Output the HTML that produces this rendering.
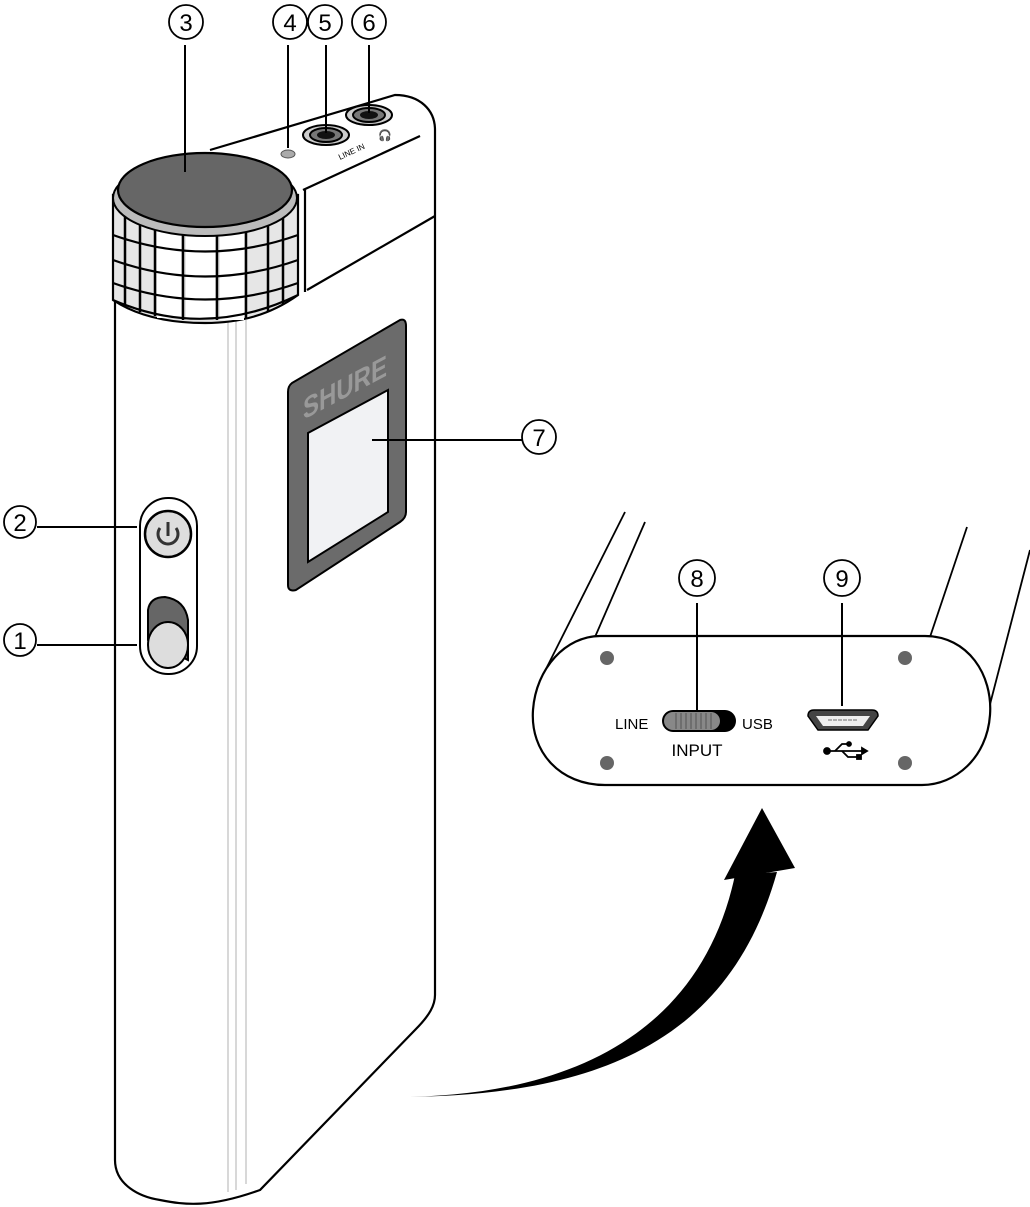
<!DOCTYPE html>
<html><head><style>body{margin:0;background:#fff}svg{display:block}text{font-family:"Liberation Sans",sans-serif}</style></head>
<body>
<svg width="1030" height="1207" viewBox="0 0 1030 1207" xmlns="http://www.w3.org/2000/svg">
<g fill="none" stroke="#000" stroke-width="2.2">
<path d="M115,300 L115,1160 C115,1185 140,1197 160,1200 C185,1205 210,1208 260,1190 L415,1030 C430,1015 435,1005 435,995 L435,130 C435,110 420,95 395,95 L210,150" fill="#fff"/>
<path d="M303,190 L420,136"/>
<path d="M305,190 L305,292"/>
<path d="M307,290 L435,216"/>
</g>
<g stroke="#ccc" stroke-width="1.5"><line x1="228" y1="320" x2="228" y2="1192"/><line x1="236" y1="320" x2="236" y2="1190"/><line x1="246" y1="320" x2="246" y2="1184"/></g>
<path d="M113,195 L113,300 C140,318 175,323 205,323 C240,323 270,315 298,295 L298,195 Z" fill="#e6e6e6" stroke="#000" stroke-width="2.2"/>
<g fill="#fff"><rect x="157" y="220" width="24" height="98"/><rect x="186" y="222" width="29" height="98"/><rect x="220" y="222" width="24" height="98"/></g>
<g stroke="#000" stroke-width="2.5">
<line x1="125" y1="210" x2="125" y2="305"/><line x1="140" y1="215" x2="140" y2="312"/><line x1="155" y1="218" x2="155" y2="316"/><line x1="183" y1="222" x2="183" y2="320"/><line x1="217" y1="222" x2="217" y2="320"/><line x1="246" y1="220" x2="246" y2="318"/><line x1="268" y1="215" x2="268" y2="312"/><line x1="283" y1="210" x2="283" y2="305"/>
</g>
<g fill="none" stroke="#000" stroke-width="2.2">
<path d="M113,235 Q205,268 298,235"/><path d="M113,260 Q205,293 298,260"/><path d="M113,283 Q205,316 298,283"/>
<path d="M113,300 Q205,340 298,295"/>
</g>
<ellipse cx="205" cy="198" rx="92" ry="38" fill="#bbb" stroke="#000" stroke-width="2"/>
<ellipse cx="205" cy="190" rx="87" ry="37" fill="#666" stroke="#000" stroke-width="2.2"/>
<ellipse cx="288" cy="154" rx="7" ry="4" fill="#aaa" stroke="#555"/>
<ellipse cx="326" cy="135" rx="23" ry="10" fill="#ccc" stroke="#000" stroke-width="2"/>
<ellipse cx="326" cy="135" rx="16" ry="7" fill="#777" stroke="#000" stroke-width="2"/>
<ellipse cx="326" cy="135" rx="9" ry="4" fill="#111"/>
<ellipse cx="369" cy="115" rx="23" ry="10" fill="#ccc" stroke="#000" stroke-width="2"/>
<ellipse cx="369" cy="115" rx="16" ry="7" fill="#777" stroke="#000" stroke-width="2"/>
<ellipse cx="369" cy="115" rx="9" ry="4" fill="#111"/>
<text x="0" y="0" font-size="8" transform="translate(340,160) rotate(-25)">LINE IN</text>
<text x="378" y="139" font-size="11">🎧</text>
<path d="M292,383 L400,320 Q406,318 406,326 L406,512 Q406,518 400,522 L296,590 Q288,592 288,585 L288,392 Q288,386 292,383 Z" fill="#6b6b6b" stroke="#000" stroke-width="2"/>
<path d="M308,433 L388,390 L388,512 L308,562 Z" fill="#f1f2f4" stroke="#000" stroke-width="2"/>
<text x="0" y="0" font-size="30" font-weight="bold" fill="#999" textLength="84" lengthAdjust="spacingAndGlyphs" transform="translate(303,420) skewY(-28)">SHURE</text>
<rect x="140" y="498" width="57" height="176" rx="28" fill="#fff" stroke="#000" stroke-width="2"/>
<circle cx="168" cy="534" r="23" fill="#ddd" stroke="#000" stroke-width="2.5"/>
<path d="M160,528 A10,10 0 1 0 176,528" fill="none" stroke="#333" stroke-width="3"/>
<line x1="168" y1="522" x2="168" y2="536" stroke="#333" stroke-width="3"/>
<path d="M148,610 Q150,597 165,597 Q185,600 188,620 L188,660 L148,640 Z" fill="#666" stroke="#000" stroke-width="2"/>
<ellipse cx="168" cy="645" rx="20" ry="23" fill="#ddd" stroke="#000" stroke-width="2"/>
<g stroke="#000" stroke-width="1.8"><line x1="547" y1="667" x2="625" y2="512"/><line x1="595" y1="637" x2="645" y2="522"/><line x1="930" y1="637" x2="967" y2="527"/><line x1="988" y1="712" x2="1030" y2="550"/></g>
<path d="M600,636 L925,636 C968,636 993,675 990,715 C987,758 955,785 922,785 L605,785 C560,785 530,752 533,710 C536,668 566,636 600,636 Z" fill="#fff" stroke="#000" stroke-width="2.2"/>
<g stroke="#000" stroke-width="2">
<line x1="37" y1="527" x2="137" y2="527"/><line x1="37" y1="645" x2="137" y2="645"/>
<line x1="185" y1="45" x2="185" y2="172"/><line x1="288" y1="45" x2="288" y2="148"/>
<line x1="326" y1="45" x2="326" y2="133"/><line x1="369" y1="45" x2="369" y2="113"/>
<line x1="372" y1="440" x2="522" y2="440"/>
<line x1="697" y1="603" x2="697" y2="712"/><line x1="842" y1="603" x2="842" y2="706"/>
</g>
<g fill="#fff" stroke="#000" stroke-width="1.8">
<circle cx="20" cy="522" r="16"/><circle cx="20" cy="640" r="16"/><circle cx="186" cy="22" r="17"/><circle cx="290" cy="22" r="17"/><circle cx="325" cy="22" r="17"/><circle cx="369" cy="22" r="17"/><circle cx="539" cy="437" r="17"/><circle cx="697" cy="578" r="18"/><circle cx="842" cy="578" r="18"/>
</g>
<g font-size="24" text-anchor="middle">
<text x="20" y="531">2</text><text x="20" y="649">1</text><text x="186" y="31">3</text><text x="290" y="31">4</text><text x="325" y="31">5</text><text x="369" y="31">6</text><text x="539" y="446">7</text><text x="697" y="587">8</text><text x="842" y="587">9</text>
</g>
<g fill="#666"><circle cx="607" cy="658" r="7"/><circle cx="905" cy="658" r="7"/><circle cx="607" cy="763" r="7"/><circle cx="905" cy="763" r="7"/></g>
<rect x="662" y="710" width="74" height="22" rx="11" fill="#000"/>
<rect x="664" y="712" width="56" height="18" rx="9" fill="#888"/>
<g stroke="#555" stroke-width="1"><line x1="676" y1="713" x2="676" y2="729"/><line x1="681" y1="713" x2="681" y2="729"/><line x1="686" y1="713" x2="686" y2="729"/><line x1="691" y1="713" x2="691" y2="729"/><line x1="696" y1="713" x2="696" y2="729"/><line x1="701" y1="713" x2="701" y2="729"/><line x1="706" y1="713" x2="706" y2="729"/><line x1="711" y1="713" x2="711" y2="729"/></g>
<text x="615" y="729" font-size="15">LINE</text>
<text x="742" y="729" font-size="15">USB</text>
<text x="697" y="756" font-size="17" text-anchor="middle">INPUT</text>
<path d="M808,716 Q808,710 814,710 L872,710 Q878,710 878,716 L868,730 L818,730 Z" fill="#444" stroke="#000" stroke-width="1.5"/>
<path d="M816,716 L870,716 L863,726 L823,726 Z" fill="#eee"/>
<line x1="828" y1="720" x2="858" y2="720" stroke="#999" stroke-width="1.5" stroke-dasharray="4,1"/>
<g stroke="#000" stroke-width="1.8" fill="#000"><circle cx="827" cy="751" r="3"/><line x1="827" y1="751" x2="862" y2="751"/><path d="M835,751 L842,744 L848,744" fill="none"/><path d="M842,751 L848,757 L858,757" fill="none"/><circle cx="849" cy="744" r="2"/><rect x="857" y="755" width="4" height="4"/><path d="M862,748 L867,751 L862,754 Z"/></g>
<path d="M396,1097 C560,1097 700,1040 735,875 L777,872 C730,1040 600,1097 396,1097 Z" fill="#000"/>
<path d="M762,808 L724,880 L795,868 Z" fill="#000"/>
</svg>
</body></html>
